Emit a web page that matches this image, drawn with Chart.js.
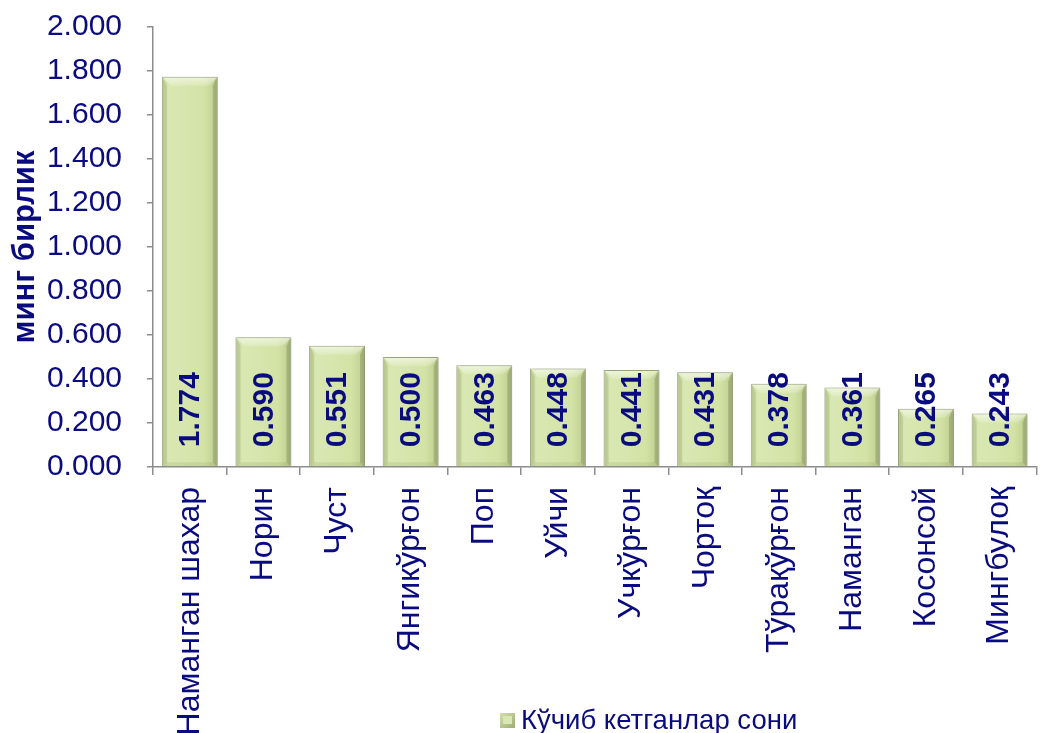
<!DOCTYPE html>
<html>
<head>
<meta charset="utf-8">
<script src="https://cdn.jsdelivr.net/npm/chart.js@4.4.1/dist/chart.umd.min.js"></script>
<style>
  html, body { margin: 0; padding: 0; background: #ffffff; overflow: hidden; }
  #wrap { position: relative; width: 1050px; height: 733px; }
</style>
</head>
<body>
<div id="wrap"><canvas id="c"></canvas></div>
<script>
const categories = ['Наманган шахар', 'Норин', 'Чуст', 'Янгикўрғон', 'Поп', 'Уйчи', 'Учкўрғон', 'Чортоқ', 'Тўрақўрғон', 'Наманган', 'Косонсой', 'Мингбулоқ'];
const values = [1.774, 0.590, 0.551, 0.500, 0.463, 0.448, 0.441, 0.431, 0.378, 0.361, 0.265, 0.243];
const seriesLabel = 'Кўчиб кетганлар сони';
const yTitle = 'минг бирлик';
const yMin = 0, yMax = 2, yStep = 0.2;

const NAVY = '#0b0b80';
const AXIS = '#8c8c8c';
const FONT = "'Liberation Sans', Arial, sans-serif";
const BAR_FRAC = 0.76;

function barFill(ctx) {
  const chart = ctx.chart;
  const xs = chart.scales.x;
  if (!xs || !chart.chartArea) return '#d6e6ab';
  const cx = xs.getPixelForValue(ctx.dataIndex);
  const w = (chart.chartArea.right - chart.chartArea.left) / categories.length * BAR_FRAC;
  const g = chart.ctx.createLinearGradient(cx - w / 2, 0, cx + w / 2, 0);
  g.addColorStop(0, '#c6d597');
  g.addColorStop(0.12, '#d9e8b2');
  g.addColorStop(0.75, '#d3e3a6');
  g.addColorStop(0.93, '#c4d394');
  g.addColorStop(1, '#aebd82');
  return g;
}

const shadowPlugin = {
  id: 'barShadow',
  beforeDatasetsDraw(chart) {
    const c = chart.ctx;
    c.save();
    c.shadowColor = 'rgba(0,0,0,0.22)';
    c.shadowBlur = 5;
    c.shadowOffsetX = 1;
    c.shadowOffsetY = 0;
  },
  afterDatasetsDraw(chart) {
    chart.ctx.restore();
  }
};

const bevel = {
  id: 'bevel',
  afterDatasetsDraw(chart) {
    const c = chart.ctx;
    const meta = chart.getDatasetMeta(0);
    c.save();
    meta.data.forEach((bar) => {
      const l = bar.x - bar.width / 2 + 1, r = bar.x + bar.width / 2 - 1;
      const t = bar.y + 1, b = bar.base;
      const d = 8, s = 4;
      // top highlight band
      const gt = c.createLinearGradient(0, t, 0, t + d);
      gt.addColorStop(0, 'rgba(255,255,255,0.55)');
      gt.addColorStop(1, 'rgba(255,255,255,0.15)');
      c.fillStyle = gt;
      c.beginPath();
      c.moveTo(l, t); c.lineTo(r, t); c.lineTo(r - d, t + d); c.lineTo(l + d, t + d); c.closePath();
      c.fill();
      // left edge
      c.fillStyle = 'rgba(110,120,80,0.18)';
      c.beginPath();
      c.moveTo(l, t); c.lineTo(l + s, t + d); c.lineTo(l + s, b - s); c.lineTo(l, b); c.closePath();
      c.fill();
      // right edge
      c.fillStyle = 'rgba(90,100,60,0.28)';
      c.beginPath();
      c.moveTo(r, t); c.lineTo(r - s, t + d); c.lineTo(r - s, b - s); c.lineTo(r, b); c.closePath();
      c.fill();
      // bottom band
      c.fillStyle = 'rgba(110,120,80,0.14)';
      c.beginPath();
      c.moveTo(l, b); c.lineTo(r, b); c.lineTo(r - s, b - s); c.lineTo(l + s, b - s); c.closePath();
      c.fill();
    });
    c.restore();
  }
};

const valueLabels = {
  id: 'valueLabels',
  afterDatasetsDraw(chart) {
    const c = chart.ctx;
    const meta = chart.getDatasetMeta(0);
    c.save();
    c.font = 'bold 30px ' + FONT;
    c.fillStyle = NAVY;
    c.textAlign = 'left';
    c.textBaseline = 'middle';
    meta.data.forEach((bar, i) => {
      c.save();
      c.translate(bar.x + 1, bar.base - 19);
      c.rotate(-Math.PI / 2);
      c.fillText(values[i].toFixed(3), 0, 0);
      c.restore();
    });
    c.restore();
  }
};

const customLegend = {
  id: 'customLegend',
  afterDraw(chart) {
    const c = chart.ctx;
    const y = 720;
    const x = 500;
    c.save();
    const g = c.createLinearGradient(x, y - 7, x + 15, y + 8);
    g.addColorStop(0, '#d4e0ac');
    g.addColorStop(1, '#9eab74');
    c.fillStyle = g;
    c.fillRect(x, y - 7, 15, 15);
    c.fillStyle = '#d9e6b6';
    c.fillRect(x + 3, y - 4, 9, 8);
    c.font = '27.5px ' + FONT;
    c.fillStyle = NAVY;
    c.textAlign = 'left';
    c.textBaseline = 'middle';
    c.fillText(chart.data.datasets[0].label, x + 21, y + 1);
    c.restore();
  }
};

new Chart(document.getElementById('c'), {
  type: 'bar',
  data: {
    labels: categories,
    datasets: [{
      label: seriesLabel,
      data: values,
      backgroundColor: barFill,
      borderColor: '#a4ae84',
      borderWidth: 1,
      categoryPercentage: 1,
      barPercentage: BAR_FRAC
    }]
  },
  options: {
    responsive: true,
    maintainAspectRatio: false,
    animation: false,
    layout: { padding: { top: 27, left: 0, right: 0, bottom: 0 } },
    plugins: {
      legend: { display: false },
      tooltip: { enabled: false }
    },
    scales: {
      x: {
        offset: true,
        afterFit(scale) { scale.height = 733 - 467; },
        border: { display: true, color: AXIS, width: 1.5 },
        grid: { display: true, drawOnChartArea: false, drawTicks: true, tickLength: 8, color: AXIS, lineWidth: 1.5, offset: true },
        ticks: {
          autoSkip: false,
          minRotation: 90,
          maxRotation: 90,
          padding: 12,
          color: NAVY,
          font: { family: FONT, size: 32 }
        }
      },
      y: {
        min: yMin,
        max: yMax,
        afterFit(scale) {
          scale.width = 153;
          scale.paddingTop = 10;
          scale.paddingBottom = 10;
        },
        border: { display: true, color: AXIS, width: 1.5 },
        grid: { display: true, drawOnChartArea: false, drawTicks: true, tickLength: 6, color: AXIS, lineWidth: 1.5 },
        ticks: {
          stepSize: yStep,
          padding: 25,
          color: NAVY,
          font: { family: FONT, size: 30 },
          callback: (v) => Number(v).toFixed(3)
        },
        title: {
          display: true,
          text: yTitle,
          color: NAVY,
          font: { family: FONT, size: 31, weight: 'bold' },
          padding: { top: 7, bottom: 0 }
        }
      }
    }
  },
  plugins: [shadowPlugin, bevel, valueLabels, customLegend]
});
</script>
</body>
</html>
